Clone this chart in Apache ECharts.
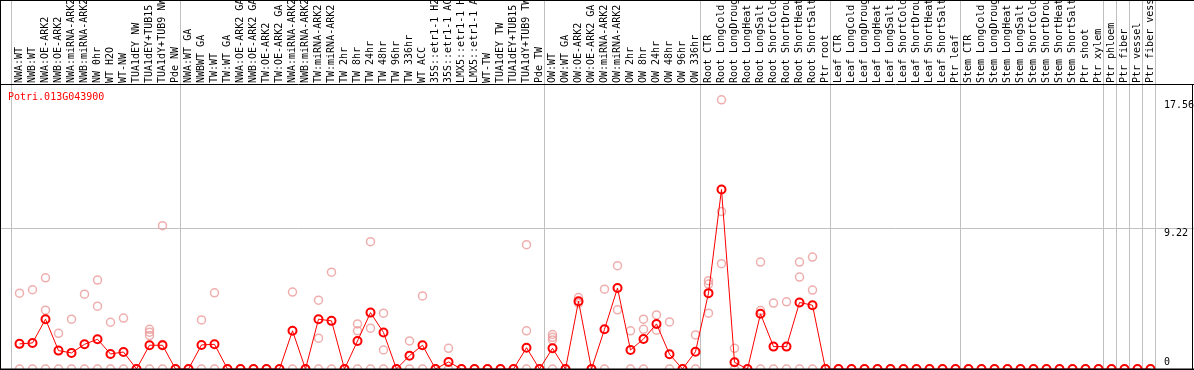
<!DOCTYPE html>
<html><head><meta charset="utf-8">
<script src="https://cdn.jsdelivr.net/npm/echarts@6/dist/echarts.min.js"></script>
<style>html,body{margin:0;padding:0;background:#fff;overflow:hidden}#c{width:1194px;height:370px}</style>
</head><body><div id="c"></div>
<script>
const geneTitle = 'Potri.013G043900';
const categories = [
 'NWA:WT','NWB:WT','NWA:OE-ARK2','NWB:OE-ARK2','NWA:miRNA-ARK2','NWB:miRNA-ARK2','NW 0hr','WT H2O','WT-NW','TUA1dEY NW','TUA1dEY+TUB15','TUA1dY+TUB9 NW','Pde NW',
 'NWA:WT GA','NWBWT GA','TW:WT','TW:WT GA','NWA:OE-ARK2 GA','NWB:OE-ARK2 GA','TW:OE-ARK2','TW:OE-ARK2 GA','NWA:miRNA-ARK2','NWB:miRNA-ARK2','TW:miRNA-ARK2','TW:miRNA-ARK2','TW 2hr','TW 8hr','TW 24hr','TW 48hr','TW 96hr','TW 336hr','WT ACC','35S::etr1-1 H2O','35S::etr1-1 ACC','LMX5::etr1-1 H2O','LMX5::etr1-1 ACC','WT-TW','TUA1dEY TW','TUA1dEY+TUB15 TW','TUA1dY+TUB9 TW','Pde TW',
 'OW:WT','OW:WT GA','OW:OE-ARK2','OW:OE-ARK2 GA','OW:miRNA-ARK2','OW:miRNA-ARK2','OW 2hr','OW 8hr','OW 24hr','OW 48hr','OW 96hr','OW 336hr',
 'Root CTR','Root LongCold','Root LongDrought','Root LongHeat','Root LongSalt','Root ShortCold','Root ShortDrought','Root ShortHeat','Root ShortSalt','Ptr root',
 'Leaf CTR','Leaf LongCold','Leaf LongDrought','Leaf LongHeat','Leaf LongSalt','Leaf ShortCold','Leaf ShortDrought','Leaf ShortHeat','Leaf ShortSalt','Ptr leaf',
 'Stem CTR','Stem LongCold','Stem LongDrought','Stem LongHeat','Stem LongSalt','Stem ShortCold','Stem ShortDrought','Stem ShortHeat','Stem ShortSalt','Ptr shoot','Ptr xylem',
 'Ptr phloem','Ptr fiber','Ptr vessel','Ptr fiber vessel'
];
const meanValues = [
 1.64,1.70,3.25,1.20,1.05,1.61,1.94,0.98,1.11,0,1.55,1.55,0,
 0,1.57,1.61,0,0,0,0,0,2.49,0,3.25,3.14,0,1.83,3.68,2.38,0,0.87,1.55,0,0.46,0,0,0,0,0,1.39,0,
 1.35,0,4.42,0,2.59,5.28,1.24,1.96,2.94,0.96,0,1.13,
 4.95,11.71,0.44,0,3.60,1.46,1.46,4.34,4.16,0,
 0,0,0,0,0,0,0,0,0,0,
 0,0,0,0,0,0,0,0,0,0,0,
 0,0,0,0
];
const replicateValues = [
 [4.95,0],[5.17,0],[5.95,3.84,0],[2.33,0],[3.25,0],[4.88,0],[5.80,4.10,0],[3.05,0],[3.32,0],[0],[2.59,2.40,2.18,0],[9.35,1.60,0],[0],
 [0],[3.20,0],[4.97,0],[0],[0],[0],[0],[0],[5.02,0],[0],[4.49,2.01,0],[6.32,0],[0],[2.94,2.49,0],[8.31,2.66,0],[3.64,1.24,0],[0],[1.83,0],[4.77,0],[0],[1.35,0],[0],[0],[0],[0],[0],[8.11,2.49,0],[0],
 [2.25,2.07,1.90,0],[0],[4.66,4.30],[0],[5.21,0],[6.74,3.86],[2.49,0],[3.25,2.59,0],[3.53,2.53],[3.07,0],[0],[2.22,0],
 [5.76,5.54,3.64],[17.56,10.27,6.87],[1.35,0],[0],[6.98,3.81,0],[4.30,0],[4.38,0],[6.98,6.00,0],[7.30,5.15,0],[0],
 [0],[0],[0],[0],[0],[0],[0],[0],[0],[0],
 [0],[0],[0],[0],[0],[0],[0],[0],[0],[0],[0],
 [0],[0],[0],[0]
];
const groupStarts = [0,13,41,53,63,73,84,85,86,87,88];
const yTickValues = [0, 9.22, 17.56];
const yMax = 18.53;

const W = 1194, H = 370;
const mono = 'DejaVu Sans Mono';
const chart = echarts.init(document.getElementById('c'), null, {renderer:'canvas'});

const scatterData = [];
replicateValues.forEach((arr, i) => arr.forEach(v => scatterData.push([i, v])));

chart.setOption({
  animation: false,
  backgroundColor: '#fff',
  title: {text: geneTitle, left: 8, top: 92, padding: 0,
    textStyle: {color: '#ff0000', fontSize: 10, fontFamily: mono, fontWeight: 'normal'}},
  grid: {left: 13, right: 37, top: 85, bottom: 1, containLabel: false, outerBoundsMode: 'none'},
  xAxis: {type: 'category', position: 'top', data: categories, boundaryGap: true,
    axisLine: {show: false}, axisTick: {show: false}, splitLine: {show: false},
    axisLabel: {interval: 0, rotate: 90, margin: 2, fontFamily: mono, fontSize: 10, color: '#000', hideOverlap: false}},
  yAxis: {type: 'value', min: 0, max: yMax, show: false},
  series: [
    {type: 'scatter', data: scatterData, symbol: 'circle', symbolSize: 8, z: 2, clip: false,
     itemStyle: {color: 'rgba(0,0,0,0)', borderColor: '#eb9a9a', borderWidth: 1.5}},
    {type: 'line', data: meanValues, symbol: 'circle', symbolSize: 8, showAllSymbol: true, z: 3, clip: false,
     lineStyle: {color: '#ff0000', width: 1},
     itemStyle: {color: 'rgba(0,0,0,0)', borderColor: '#ff0000', borderWidth: 2}}
  ]
});

const c0 = chart.convertToPixel({xAxisIndex: 0}, 0);
const c1 = chart.convertToPixel({xAxisIndex: 0}, 1);
const step = c1 - c0;
const g = [];
const gray = '#c0c0c0';
groupStarts.forEach(k => {
  const x = Math.round(c0 + step * k - step / 2 - 2) + 0.5;
  g.push({type: 'line', shape: {x1: x, y1: 0, x2: x, y2: 369}, style: {stroke: gray, lineWidth: 1}, z: 1});
});
const yMid = Math.round(chart.convertToPixel({yAxisIndex: 0}, yTickValues[1])) + 0.5;
g.push({type: 'line', shape: {x1: 0, y1: yMid, x2: W, y2: yMid}, style: {stroke: gray, lineWidth: 1}, z: 1});
// frame
const topY = 84.5;
g.push({type: 'line', shape: {x1: 0, y1: 0.5, x2: W, y2: 0.5}, style: {stroke: '#000', lineWidth: 1}, z: 5});
g.push({type: 'line', shape: {x1: 0, y1: topY, x2: W, y2: topY}, style: {stroke: '#000', lineWidth: 1}, z: 5});
g.push({type: 'line', shape: {x1: 0.5, y1: 0, x2: 0.5, y2: H}, style: {stroke: '#000', lineWidth: 1}, z: 5});
g.push({type: 'line', shape: {x1: W - 1.5, y1: topY, x2: W - 1.5, y2: H}, style: {stroke: '#000', lineWidth: 1}, z: 5});
g.push({type: 'line', shape: {x1: 0, y1: 369.5, x2: W, y2: 369.5}, style: {stroke: '#000', lineWidth: 2}, z: 5});
// y labels
yTickValues.forEach(v => {
  const y = chart.convertToPixel({yAxisIndex: 0}, v);
  const isZero = v === 0;
  g.push({type: 'text', x: 1164, y: isZero ? y - 2 : y + 1, z: 6,
    style: {text: String(v), fill: '#000', font: '10px "' + mono + '"', textAlign: 'left', textVerticalAlign: isZero ? 'bottom' : 'top'}});
});
chart.setOption({graphic: g});
</script></body></html>
